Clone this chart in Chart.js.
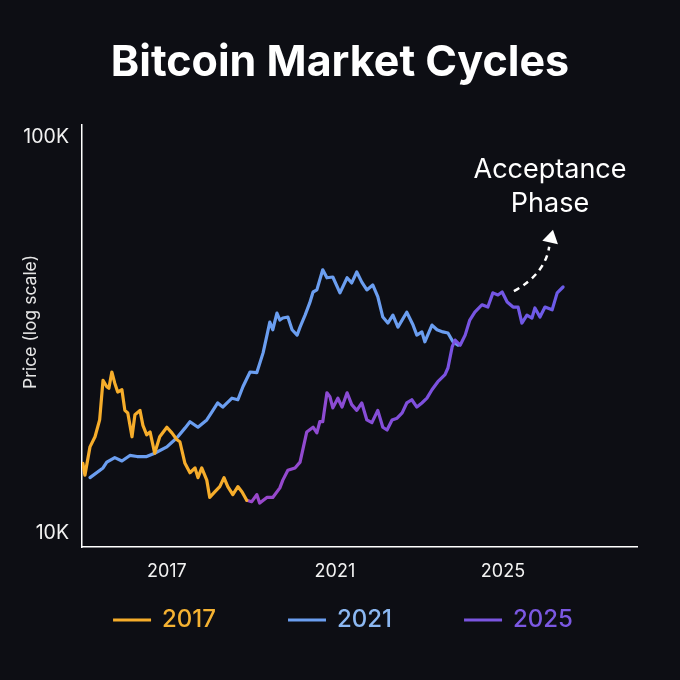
<!DOCTYPE html>
<html>
<head>
<meta charset="utf-8">
<title>Bitcoin Market Cycles</title>
<script src="https://cdn.jsdelivr.net/npm/chart.js@4.4.1/dist/chart.umd.min.js"></script>
<style>
  html, body { margin: 0; padding: 0; background: #0d0e14; }
  canvas { display: block; }
</style>
</head>
<body>
<canvas id="cyclesChart" width="680" height="680"></canvas>
<script>
const FONT = "Inter, 'Noto Sans', sans-serif";

// values (x = year, y = price in thousands USD)
const tickYears = [2017, 2021, 2025];
const tickPrices = [10, 100];

const cycle2017Years = [2015.00, 2015.05, 2015.17, 2015.29, 2015.40, 2015.48, 2015.57, 2015.62, 2015.69, 2015.76, 2015.83, 2015.93, 2016.00, 2016.07, 2016.17, 2016.24, 2016.36, 2016.43, 2016.52, 2016.60, 2016.71, 2016.83, 2017.00, 2017.12, 2017.24, 2017.31, 2017.43, 2017.55, 2017.67, 2017.74, 2017.83, 2017.95, 2018.02, 2018.14, 2018.26, 2018.36, 2018.45, 2018.57, 2018.69, 2018.79, 2018.90];
const cycle2017Prices = [15.0, 14.0, 16.5, 17.5, 19.3, 24.3, 23.4, 23.2, 25.5, 23.9, 22.7, 23.0, 20.4, 20.1, 17.5, 19.9, 20.4, 18.7, 17.7, 18.0, 15.9, 17.5, 18.5, 17.9, 17.2, 17.0, 15.0, 14.2, 14.6, 13.8, 14.6, 13.6, 12.3, 12.7, 13.1, 13.8, 13.1, 12.5, 13.1, 12.7, 12.1];

const cycle2021Years = [2015.17, 2015.48, 2015.57, 2015.76, 2015.93, 2016.12, 2016.29, 2016.52, 2016.71, 2017.00, 2017.24, 2017.43, 2017.55, 2017.74, 2017.95, 2018.07, 2018.21, 2018.33, 2018.55, 2018.69, 2018.81, 2018.98, 2019.14, 2019.29, 2019.40, 2019.45, 2019.52, 2019.62, 2019.69, 2019.76, 2019.88, 2019.98, 2020.10, 2020.17, 2020.29, 2020.40, 2020.48, 2020.57, 2020.71, 2020.81, 2020.95, 2021.12, 2021.29, 2021.40, 2021.52, 2021.64, 2021.76, 2021.90, 2022.02, 2022.14, 2022.26, 2022.38, 2022.50, 2022.71, 2022.86, 2022.95, 2023.07, 2023.14, 2023.31, 2023.43, 2023.57, 2023.69, 2023.81, 2023.93];
const cycle2021Prices = [13.8, 14.6, 15.1, 15.5, 15.2, 15.7, 15.6, 15.6, 15.9, 16.5, 17.4, 18.4, 19.1, 18.5, 19.3, 20.2, 21.3, 20.8, 21.9, 21.7, 23.4, 25.5, 25.4, 28.5, 32.2, 34.1, 32.6, 35.9, 34.5, 34.9, 35.1, 32.6, 31.6, 33.1, 35.5, 38.1, 40.6, 41.1, 46.2, 44.1, 44.3, 40.4, 44.1, 42.8, 45.6, 43.0, 41.1, 42.3, 39.5, 35.1, 33.9, 35.5, 33.1, 36.1, 33.5, 31.6, 32.2, 30.4, 33.5, 32.6, 32.2, 32.0, 30.4, 29.8];

const cycle2025Years = [2018.90, 2019.02, 2019.14, 2019.21, 2019.38, 2019.52, 2019.69, 2019.76, 2019.88, 2020.05, 2020.17, 2020.33, 2020.48, 2020.57, 2020.64, 2020.71, 2020.81, 2020.88, 2020.95, 2021.07, 2021.17, 2021.29, 2021.40, 2021.52, 2021.64, 2021.76, 2021.88, 2022.02, 2022.14, 2022.24, 2022.36, 2022.48, 2022.60, 2022.71, 2022.83, 2022.95, 2023.07, 2023.19, 2023.31, 2023.45, 2023.62, 2023.69, 2023.79, 2023.86, 2023.98, 2024.10, 2024.21, 2024.33, 2024.50, 2024.64, 2024.76, 2024.88, 2024.98, 2025.10, 2025.24, 2025.36, 2025.45, 2025.57, 2025.69, 2025.76, 2025.88, 2026.00, 2026.17, 2026.29, 2026.43];
const cycle2025Prices = [12.1, 12.0, 12.5, 11.9, 12.3, 12.3, 13.0, 13.6, 14.4, 14.6, 15.1, 18.0, 18.5, 17.9, 19.1, 19.1, 22.6, 22.1, 20.7, 21.9, 20.8, 22.6, 21.1, 20.4, 21.3, 19.3, 19.0, 20.4, 18.5, 18.2, 19.3, 19.5, 20.1, 21.3, 21.7, 20.8, 21.3, 21.9, 23.0, 24.1, 25.1, 26.1, 29.5, 30.7, 29.8, 31.6, 34.5, 36.1, 37.7, 37.2, 40.4, 39.9, 40.6, 38.3, 37.2, 37.2, 33.9, 35.5, 34.9, 37.0, 35.1, 37.2, 36.6, 40.4, 41.8];

const seriesLabels = ["2017", "2021", "2025"];
const lineColors = ["#f6ad2b", "#6b9ef0", "#7b55e0"];
const legendTextColors = ["#f5b232", "#8cb8f2", "#7b58e2"];

// annotation anchors in data units
const arrowStart = { x: 2025.26, y: 40.8 };
const arrowControl = { x: 2026.0, y: 45.1 };
const arrowEnd = { x: 2026.1, y: 52.8 };
const arrowTip = { x: 2026.19, y: 58.3 };
const noteLines = [
  { text: "Acceptance", x: 2026.12, y: 82.5 },
  { text: "Phase", x: 2026.12, y: 67.7 },
];

const toPoints = (years, prices) => years.map((x, i) => ({ x, y: prices[i] }));

const purpleGradient = (context) => {
  const { ctx, chartArea, scales } = context.chart;
  if (!chartArea) return lineColors[2];
  const g = ctx.createLinearGradient(
    scales.x.getPixelForValue(2019),
    0,
    scales.x.getPixelForValue(2026.5),
    0
  );
  g.addColorStop(0, "#9a47c9");
  g.addColorStop(0.55, "#7d50de");
  g.addColorStop(1, "#6b5ce9");
  return g;
};

const cycleExtras = {
  id: "cycleExtras",
  beforeDraw(chart) {
    const ctx = chart.ctx;
    ctx.save();
    ctx.fillStyle = "#0d0e14";
    ctx.fillRect(0, 0, chart.width, chart.height);
    ctx.restore();
  },
  afterDraw(chart) {
    const ctx = chart.ctx;
    const { x: xs, y: ys } = chart.scales;
    const px = (p) => ({ x: xs.getPixelForValue(p.x), y: ys.getPixelForValue(p.y) });

    // y axis title
    ctx.save();
    ctx.translate(31, 322);
    ctx.rotate(-Math.PI / 2);
    ctx.font = `17.5px ${FONT}`;
    ctx.fillStyle = "#e6e6e6";
    ctx.textAlign = "center";
    ctx.textBaseline = "middle";
    ctx.fillText("Price (log scale)", 0, 0);
    ctx.restore();

    // legend
    ctx.save();
    ctx.font = `500 24px ${FONT}`;
    ctx.textBaseline = "middle";
    const lineLen = 38;
    const gap = 11;
    const itemGap = 72;
    const widths = chart.data.datasets.map((ds) => lineLen + gap + ctx.measureText(ds.label).width);
    const total = widths.reduce((a, b) => a + b, 0) + itemGap * (widths.length - 1);
    let lx = chart.width / 2 - total / 2 + 3;
    const ly = 620;
    chart.data.datasets.forEach((ds, i) => {
      ctx.strokeStyle = lineColors[i];
      ctx.lineWidth = 3;
      ctx.beginPath();
      ctx.moveTo(lx, ly);
      ctx.lineTo(lx + lineLen, ly);
      ctx.stroke();
      ctx.fillStyle = legendTextColors[i];
      ctx.textAlign = "left";
      ctx.fillText(ds.label, lx + lineLen + gap, ly);
      lx += widths[i] + itemGap;
    });
    ctx.restore();

    // annotation: dashed arrow + text
    const s = px(arrowStart);
    const c = px(arrowControl);
    const e = px(arrowEnd);
    const t = px(arrowTip);
    ctx.save();
    ctx.strokeStyle = "#ffffff";
    ctx.fillStyle = "#ffffff";
    ctx.lineWidth = 2.5;
    ctx.setLineDash([6, 5]);
    ctx.beginPath();
    ctx.moveTo(s.x, s.y);
    ctx.quadraticCurveTo(c.x, c.y, e.x, e.y);
    ctx.stroke();
    ctx.setLineDash([]);
    const dx = t.x - e.x;
    const dy = t.y - e.y;
    const len = Math.hypot(dx, dy);
    const ux = dx / len;
    const uy = dy / len;
    const bx = t.x - ux * 13;
    const by = t.y - uy * 13;
    ctx.beginPath();
    ctx.moveTo(t.x, t.y);
    ctx.lineTo(bx - uy * 8, by + ux * 8);
    ctx.lineTo(bx + uy * 8, by - ux * 8);
    ctx.closePath();
    ctx.fill();

    ctx.font = `27px ${FONT}`;
    ctx.textAlign = "center";
    ctx.textBaseline = "middle";
    noteLines.forEach((n) => {
      const p = px(n);
      ctx.fillText(n.text, p.x, p.y);
    });
    ctx.restore();
  },
};

const cyclesCtx = document.getElementById("cyclesChart").getContext("2d");
const cyclesChart = new Chart(cyclesCtx, {
  type: "line",
  data: {
    datasets: [
      {
        label: seriesLabels[0],
        data: toPoints(cycle2017Years, cycle2017Prices),
        borderColor: lineColors[0],
        order: 0,
      },
      {
        label: seriesLabels[1],
        data: toPoints(cycle2021Years, cycle2021Prices),
        borderColor: lineColors[1],
        order: 2,
      },
      {
        label: seriesLabels[2],
        data: toPoints(cycle2025Years, cycle2025Prices),
        borderColor: purpleGradient,
        order: 1,
      },
    ],
  },
  options: {
    responsive: false,
    animation: false,
    devicePixelRatio: 1,
    layout: {
      padding: { top: 0, right: 0, bottom: 93, left: 0 },
    },
    elements: {
      line: {
        borderWidth: 3.2,
        tension: 0,
        borderJoinStyle: "round",
        borderCapStyle: "round",
        fill: false,
      },
      point: { radius: 0, hoverRadius: 0 },
    },
    plugins: {
      legend: { display: false },
      tooltip: { enabled: false },
      title: {
        display: true,
        text: "Bitcoin Market Cycles",
        color: "#ffffff",
        font: { family: FONT, size: 43, weight: "bold" },
        padding: { top: 37, bottom: 36.4 },
      },
    },
    scales: {
      x: {
        type: "linear",
        min: 2014.98,
        max: 2028.19,
        grid: { display: false, drawTicks: false },
        border: { color: "#ffffff", width: 1.5 },
        ticks: {
          color: "#f2f2f2",
          font: { family: FONT, size: 18 },
          padding: 14,
          maxRotation: 0,
          callback: (value) => String(value),
        },
        afterBuildTicks: (scale) => {
          scale.ticks = tickYears.map((value) => ({ value }));
        },
        afterFit: (scale) => {
          scale.height = 40;
        },
      },
      y: {
        type: "logarithmic",
        min: 9.22,
        max: 107.2,
        grid: { display: false, drawTicks: false },
        border: { color: "#ffffff", width: 1.5 },
        ticks: {
          color: "#f2f2f2",
          font: { family: FONT, size: 19.5 },
          padding: 13,
          callback: (value) => value + "K",
        },
        afterBuildTicks: (scale) => {
          scale.ticks = tickPrices.map((value) => ({ value }));
        },
        afterFit: (scale) => {
          scale.width = 82;
        },
      },
      // empty right-hand spacer so the title stays centred on the canvas
      spacer: {
        type: "linear",
        position: "right",
        display: true,
        grid: { display: false, drawTicks: false },
        border: { display: false },
        ticks: { display: false },
        afterFit: (scale) => {
          scale.width = 43;
        },
      },
    },
  },
  plugins: [cycleExtras],
});
</script>
</body>
</html>
